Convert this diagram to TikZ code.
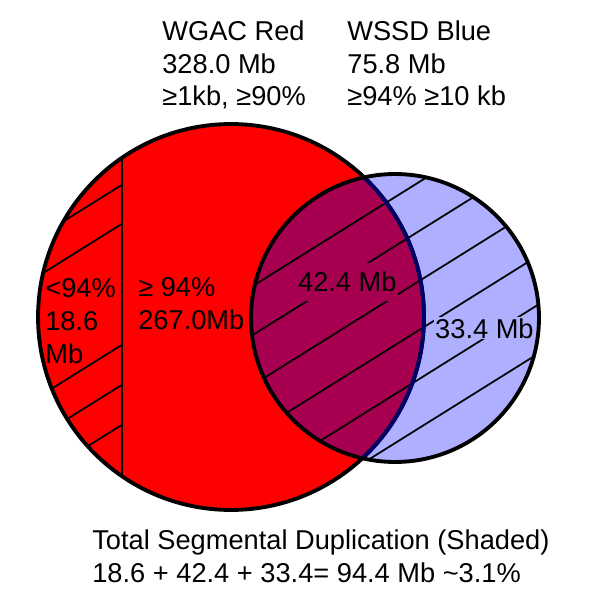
\documentclass[tikz,border=0pt]{standalone}
\usepackage{fontspec}
\setmainfont{Liberation Sans}
\definecolor{wgacred}{RGB}{255,0,0}
\definecolor{wssdblue}{RGB}{175,175,255}
\definecolor{bothpurple}{RGB}{168,0,80}
\definecolor{edgenavy}{RGB}{0,0,102}
\begin{document}
\begin{tikzpicture}[x=0.02cm,y=-0.02cm,
		outline/.style={line width=2.2pt},
		hatch/.style={line width=1pt},
		txt/.style={anchor=base west,inner sep=0pt,align=left,font=\fontsize{15.5}{18.5}\selectfont}]
		\useasboundingbox (0,0) rectangle (600,614);
		\coordinate (redc) at (231,317);
		\coordinate (bluec) at (395,318);
		% fills
		\fill[wgacred] (redc) circle (3.86cm);
		\fill[wssdblue] (bluec) circle (2.88cm);
		\begin{scope}
			\clip (redc) circle (3.86cm);
			\fill[bothpurple] (bluec) circle (2.88cm);
		\end{scope}
		% left strip of the red set
		\begin{scope}
			\clip (redc) circle (3.86cm);
			\draw[hatch] (122,100) -- (122,550);
			\clip (0,0) rectangle (122,614);
			\foreach \c in {261,300,421,461,501}
				\draw[hatch] (0,\c) -- (200,\c-125);
		\end{scope}
		% blue set
		\begin{scope}
			\clip (bluec) circle (2.88cm);
			\foreach \c in {444,493,543,592,641,690}
				\draw[hatch] (200,\c-125) -- (600,\c-375);
			\node[txt,fill=bothpurple,inner xsep=1pt,inner ysep=5pt] (both) at (296,292) {42.4 Mb};
			\node[txt,fill=wssdblue,inner sep=0.5pt] (onlyblue) at (434,338) {33.4 Mb};
		\end{scope}
		% outlines
		\draw[outline] (redc) circle (3.86cm);
		\begin{scope}
			\clip (bluec) circle (2.88cm);
			\draw[outline,edgenavy] (redc) circle (3.86cm);
		\end{scope}
		\draw[outline] (bluec) circle (2.88cm);
		% texts (anchored at the baseline of their last line)
		\node[txt] (redhead) at (162,106) {WGAC Red\\328.0 Mb\\≥1kb, ≥90\%};
		\node[txt] (bluehead) at (347,106) {WSSD Blue\\75.8 Mb\\≥94\% ≥10 kb};
		\node[txt,font=\fontsize{15.5}{18.7}\selectfont] (lowpct) at (45,363) {<94\%\\18.6\\Mb};
		\node[txt,font=\fontsize{15.5}{18.7}\selectfont] (highpct) at (138,329) {≥ 94\%\\267.0Mb};
		\node[txt,font=\fontsize{15.5}{18.7}\selectfont] (total) at (92,582) {Total Segmental Duplication (Shaded)\\18.6 + 42.4 + 33.4= 94.4 Mb \textasciitilde3.1\%};
	\end{tikzpicture}
\end{document}
